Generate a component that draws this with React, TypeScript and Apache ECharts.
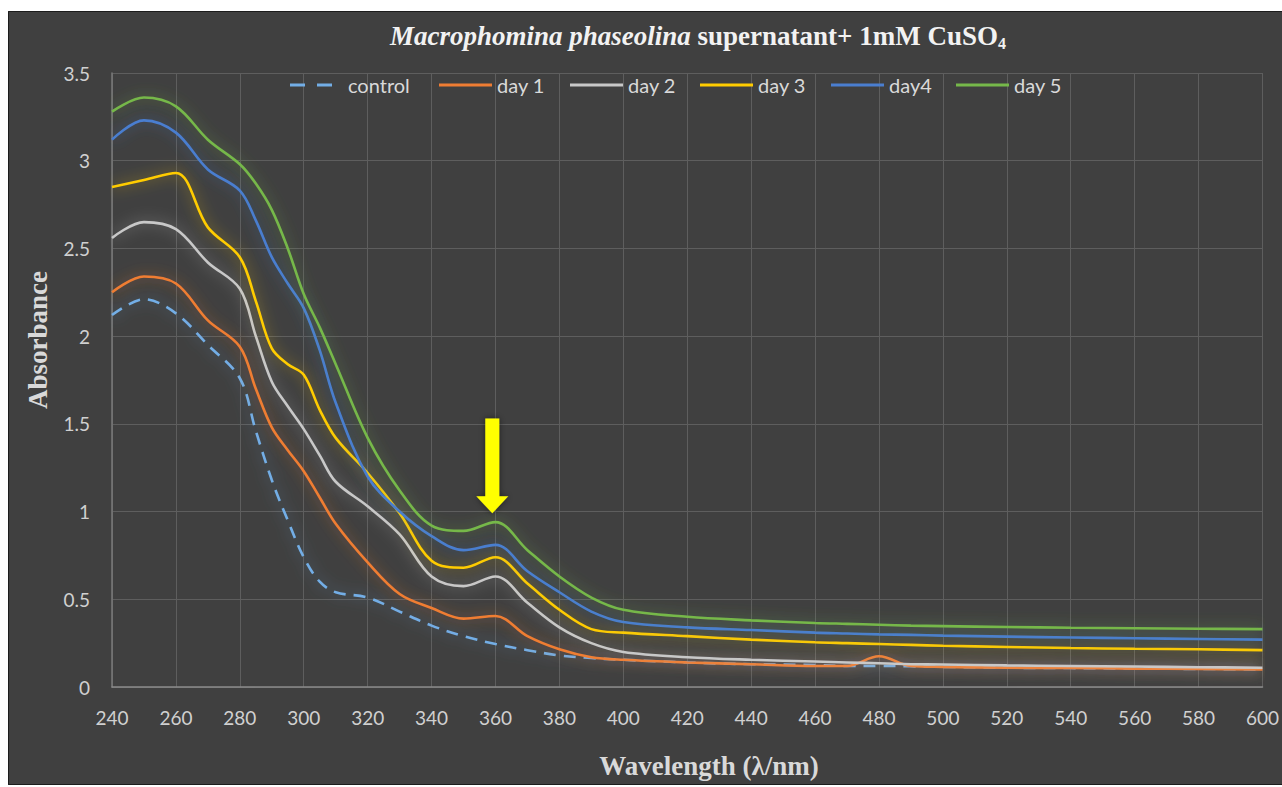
import React, { useEffect, useRef } from 'react';
import * as echarts from 'echarts';

const wavelengths = [240, 250, 260, 270, 280, 285, 290, 295, 300, 305, 310, 320, 330, 340, 350, 360, 370, 380, 390, 400, 420, 440, 460, 470, 480, 490, 500, 520, 540, 560, 580, 600];

const control = [2.12, 2.21, 2.13, 1.95, 1.76, 1.46, 1.18, 0.95, 0.74, 0.6, 0.54, 0.51, 0.43, 0.35, 0.29, 0.245, 0.21, 0.18, 0.165, 0.155, 0.14, 0.13, 0.125, 0.12, 0.12, 0.118, 0.115, 0.11, 0.108, 0.105, 0.103, 0.1];
const day1 = [2.25, 2.34, 2.3, 2.09, 1.94, 1.7, 1.48, 1.35, 1.23, 1.08, 0.93, 0.71, 0.53, 0.45, 0.39, 0.405, 0.29, 0.215, 0.17, 0.155, 0.14, 0.13, 0.12, 0.12, 0.175, 0.12, 0.115, 0.11, 0.108, 0.105, 0.103, 0.1];
const day2 = [2.56, 2.65, 2.61, 2.42, 2.27, 2.0, 1.74, 1.6, 1.47, 1.32, 1.17, 1.03, 0.87, 0.63, 0.575, 0.63, 0.48, 0.34, 0.25, 0.2, 0.17, 0.155, 0.145, 0.14, 0.135, 0.13, 0.128, 0.123, 0.12, 0.117, 0.113, 0.11];
const day3 = [2.85, 2.89, 2.93, 2.62, 2.45, 2.2, 1.93, 1.84, 1.78, 1.58, 1.42, 1.22, 0.99, 0.72, 0.68, 0.74, 0.59, 0.44, 0.33, 0.31, 0.29, 0.27, 0.255, 0.25, 0.245, 0.24, 0.235, 0.228, 0.222, 0.218, 0.215, 0.21];
const day4 = [3.12, 3.23, 3.16, 2.95, 2.83, 2.66, 2.45, 2.3, 2.16, 1.92, 1.62, 1.2, 1.0, 0.86, 0.78, 0.81, 0.66, 0.54, 0.43, 0.37, 0.34, 0.325, 0.31, 0.305, 0.3, 0.297, 0.293, 0.287, 0.282, 0.278, 0.274, 0.27];
const day5 = [3.28, 3.36, 3.31, 3.12, 2.98, 2.87, 2.72, 2.5, 2.24, 2.05, 1.84, 1.42, 1.12, 0.92, 0.89, 0.94, 0.78, 0.63, 0.51, 0.44, 0.4, 0.38, 0.365, 0.36, 0.355, 0.35, 0.347, 0.342, 0.338, 0.335, 0.332, 0.33];

const seriesNames = ['control', 'day 1', 'day 2', 'day 3', 'day4', 'day 5'];
const seriesValues = [control, day1, day2, day3, day4, day5];
const seriesColors = ['#73aee6', '#ef7d33', '#c8c8c8', '#ffcc00', '#4a7ed0', '#76b84a'];

const xMin = 240, xMax = 600, xStep = 20;
const yMin = 0, yMax = 3.5, yStep = 0.5;
const arrowX = 359, arrowTop = 1.53, arrowTip = 0.99;

const legendLefts = [290, 439, 570, 700, 831, 956];

export default function App() {
  const ref = useRef<HTMLDivElement>(null);
  useEffect(() => {
    if (!ref.current) return;
    const chart = echarts.init(ref.current, null, { renderer: 'svg' });
    const series = seriesNames.map((name, k) => ({
      name,
      type: 'line',
      smooth: 0.35,
      showSymbol: false,
      symbol: 'none',
      z: 2 + k,
      data: wavelengths.map((w, i) => [w, seriesValues[k][i]]),
      lineStyle: {
        color: seriesColors[k],
        width: 2.6,
        type: k === 0 ? [12, 8] : 'solid',
        shadowBlur: 14,
        shadowColor: seriesColors[k] + '99',
      },
      itemStyle: { color: seriesColors[k] },
    }));
    const legends = seriesNames.map((name, k) => ({
      left: legendLefts[k],
      top: 75,
      padding: 0,
      itemWidth: k === 0 ? 42 : 53,
      itemHeight: 3.5,
      data: [{ name, icon: k === 0 ? 'path://M0 0H15V3H0Z M27 0H42V3H27Z' : 'path://M0 0H53V3H0Z' }],
      itemStyle: { color: seriesColors[k], borderWidth: 0 },
      textStyle: { color: '#d9d9d9', fontSize: 20, fontFamily: 'Lato', padding: [0, 0, 0, k === 0 ? 11 : 0] },
    }));
    chart.setOption({
      animation: false,
      backgroundColor: '#404040',
      title: {
        left: 390,
        top: 20,
        padding: 0,
        text: '{i|Macrophomina phaseolina}{b| supernatant+ 1mM CuSO}{s|4}',
        textStyle: {
          rich: {
            i: { fontFamily: 'Liberation Serif', fontStyle: 'italic', fontWeight: 'bold', fontSize: 27, color: '#f2f2f2' },
            b: { fontFamily: 'Liberation Serif', fontWeight: 'bold', fontSize: 27, color: '#f2f2f2' },
            s: { fontFamily: 'Liberation Serif', fontWeight: 'bold', fontSize: 16, color: '#f2f2f2', padding: [15, 0, 0, 0] },
          },
        },
      },
      legend: legends,
      grid: { left: 112, right: 16, top: 73, bottom: 100 },
      xAxis: {
        type: 'value',
        min: xMin,
        max: xMax,
        interval: xStep,
        axisLine: { show: true, lineStyle: { color: '#8a8a8a', width: 1.5 } },
        axisTick: { show: false },
        axisLabel: { color: '#d0d0d0', fontSize: 19, fontFamily: 'Lato', margin: 21 },
        splitLine: { show: true, lineStyle: { color: '#5e5e5e', width: 1 } },
      },
      yAxis: {
        type: 'value',
        min: yMin,
        max: yMax,
        interval: yStep,
        axisLine: { show: true, lineStyle: { color: '#7a7a7a', width: 1.5 } },
        axisTick: { show: false },
        axisLabel: { color: '#d0d0d0', fontSize: 19, fontFamily: 'Lato', margin: 22 },
        splitLine: { show: true, lineStyle: { color: '#5e5e5e', width: 1 } },
      },
      series,
    });
    const pTop = chart.convertToPixel({ gridIndex: 0 }, [arrowX, arrowTop]) as number[];
    const pTip = chart.convertToPixel({ gridIndex: 0 }, [arrowX, arrowTip]) as number[];
    const ax = pTip[0];
    const headH = 17, shaftHW = 7, headHW = 16;
    chart.setOption({
      graphic: [
        { type: 'rect', silent: true, z: 100, shape: { x: 0, y: 0, width: 1282, height: 11 }, style: { fill: '#ffffff' } },
        { type: 'rect', silent: true, z: 100, shape: { x: 0, y: 0, width: 8, height: 787 }, style: { fill: '#ffffff' } },
        { type: 'rect', silent: true, z: 100, shape: { x: 0, y: 785, width: 1282, height: 2 }, style: { fill: '#ffffff' } },
        { type: 'rect', silent: true, z: 100, shape: { x: 8.5, y: 11.5, width: 1280, height: 773 }, style: { fill: 'none', stroke: '#1c1c1c', lineWidth: 1 } },
        {
          type: 'polygon', z: 100, silent: true,
          shape: {
            points: [
              [ax - shaftHW, pTop[1]], [ax + shaftHW, pTop[1]], [ax + shaftHW, pTip[1] - headH],
              [ax + headHW, pTip[1] - headH], [ax, pTip[1]], [ax - headHW, pTip[1] - headH],
              [ax - shaftHW, pTip[1] - headH],
            ],
          },
          style: { fill: '#ffff00', shadowBlur: 6, shadowColor: 'rgba(0,0,0,0.5)' },
        },
        {
          type: 'text', z: 100, silent: true, x: 38, y: 340, rotation: Math.PI / 2,
          style: { text: 'Absorbance', fill: '#d9d9d9', font: 'bold 27px "Liberation Serif"', align: 'center', verticalAlign: 'middle' },
        },
        {
          type: 'text', z: 100, silent: true, x: 709, y: 766,
          style: { text: 'Wavelength (λ/nm)', fill: '#d9d9d9', font: 'bold 27px "Liberation Serif"', align: 'center', verticalAlign: 'middle' },
        },
      ],
    });
    return () => chart.dispose();
  }, []);
  return <div ref={ref} style={{ position: 'fixed', left: 0, top: 0, width: 1282, height: 787 }} />;
}
